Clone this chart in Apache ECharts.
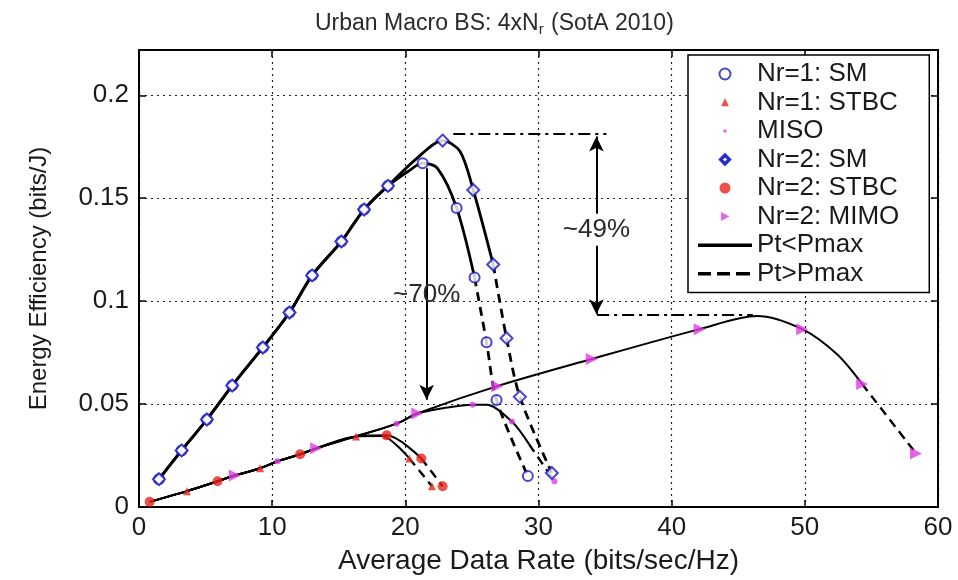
<!DOCTYPE html>
<html><head><meta charset="utf-8">
<script src="https://cdn.jsdelivr.net/npm/echarts/dist/echarts.min.js"></script>
<style>html,body{margin:0;padding:0;background:#fff}#c{width:958px;height:580px}</style>
</head><body><div id="c"></div>
<script>
// ---------- data ----------
// shared rising part of the two SM curves
const smRiseX = [1.5, 3.2, 5.1, 7.0, 9.3, 11.3, 13.0, 15.2, 16.9, 18.7];
const smRiseY = [0.0135, 0.0275, 0.0425, 0.059, 0.0775, 0.0945, 0.1125, 0.129, 0.1445, 0.156];
// Nr=1: SM
const sm1SolidX = [20.2, 21.3, 22.4, 23.85, 25.2];
const sm1SolidY = [0.163, 0.167, 0.1646, 0.1453, 0.1115];
const sm1DashX = [25.2, 26.1, 26.85, 29.2];
const sm1DashY = [0.1115, 0.080, 0.052, 0.015];
const sm1MarkX = [21.3, 23.85, 25.2, 26.1, 26.85, 29.2];
const sm1MarkY = [0.167, 0.1453, 0.1115, 0.080, 0.052, 0.015];
// Nr=2: SM
const sm2SolidX = [20.8, 22.8, 24.1, 25.1, 26.6];
const sm2SolidY = [0.169, 0.178, 0.1728, 0.154, 0.1178];
const sm2DashX = [26.6, 27.6, 28.6, 31.0];
const sm2DashY = [0.1178, 0.082, 0.0535, 0.0165];
const sm2MarkX = [22.8, 25.1, 26.6, 27.6, 28.6, 31.0];
const sm2MarkY = [0.178, 0.154, 0.1178, 0.082, 0.0535, 0.0165];
// shared rising part of the lower curves
const lowX = [0.8, 3.6, 5.9, 7.2, 9.1, 10.4, 12.1, 13.3, 16.3, 19.35, 20.9];
const lowY = [0.0025, 0.0077, 0.0125, 0.0153, 0.0188, 0.0222, 0.0256, 0.0285, 0.0343, 0.0405, 0.0454];
// Nr=2: MIMO
const mimoSolidX = [26.9, 34.0, 42.1, 46.4, 49.8, 52.4, 54.3];
const mimoSolidY = [0.0587, 0.0719, 0.0864, 0.0928, 0.0864, 0.0743, 0.0598];
const mimoDashX = [54.3, 58.35];
const mimoDashY = [0.0598, 0.026];
const mimoMarkX = [7.2, 13.3, 20.9, 26.9, 34.0, 42.1, 49.8, 54.3, 58.35];
const mimoMarkY = [0.0153, 0.0285, 0.0454, 0.0587, 0.0719, 0.0864, 0.0864, 0.0598, 0.026];
// MISO
const misoSolidX = [23.0, 25.05, 26.1, 28.0, 29.3];
const misoSolidY = [0.0482, 0.0497, 0.0497, 0.0415, 0.0304];
const misoDashX = [29.3, 31.2];
const misoDashY = [0.0304, 0.0125];
const misoMarkX = [10.4, 19.35, 25.05, 28.0, 31.2];
const misoMarkY = [0.0222, 0.0405, 0.0497, 0.0415, 0.0125];
// Nr=1: STBC
const stbc1SolidX = [18.2, 20.3];
const stbc1SolidY = [0.0345, 0.0236];
const stbc1DashX = [20.3, 22.0];
const stbc1DashY = [0.0236, 0.0101];
const stbc1MarkX = [3.6, 9.1, 16.3, 20.3, 22.0];
const stbc1MarkY = [0.0077, 0.0188, 0.0343, 0.0236, 0.0101];
// Nr=2: STBC
const stbc2SolidX = [18.6, 21.2];
const stbc2SolidY = [0.0348, 0.0236];
const stbc2DashX = [21.2, 22.8];
const stbc2DashY = [0.0236, 0.0101];
const stbc2MarkX = [0.8, 5.9, 12.1, 18.6, 21.2, 22.8];
const stbc2MarkY = [0.0025, 0.0125, 0.0256, 0.0348, 0.0236, 0.0101];
// annotations
const arrow49X = 34.35, arrow49Y = [0.1800, 0.0936], label49Y = 0.1347;
const refTopX = [23.6, 35.1], refTopY = 0.1815;
const refLowX = [34.4, 46.1], refLowY = 0.0933;
const arrow70X = 21.6, arrow70Y = [0.1645, 0.0521], label70Y = 0.1033;
const xTicks = [0, 60, 10];
const yTicks = [0, 0.222, 0.05];

// ---------- helpers ----------
const zip = (xs, ys) => xs.map((x, i) => [x, ys[i]]);
const FONT = "'Liberation Sans', Arial, sans-serif";
const BLUE = '#1818c8', RED = '#e8241c', MAG = '#e03ce4';
const TRI = 'path://M0,0L10,5L0,10Z';
const smRise = zip(smRiseX, smRiseY);
const low = zip(lowX, lowY);
const lowTo16 = low.slice(0, 9);

function marks(name, xs, ys, symbol, size, color, empty) {
  return { type: 'scatter', name, data: zip(xs, ys), symbol, symbolSize: size, z: 5,
    itemStyle: empty ? { color: color, borderColor: color, borderWidth: 3 } : { color: color }, silent: true };
}
function line(name, data, dashed, width) {
  return { type: 'line', name, data, smooth: 0.3, symbol: 'none', z: 3, silent: true,
    lineStyle: { color: '#000', width: width, type: dashed ? [9, 6] : 'solid' } };
}

const series = [
  marks('Nr=1: SM', smRiseX.concat(sm1MarkX), smRiseY.concat(sm1MarkY), 'emptyCircle', 10, BLUE, true),
  marks('Nr=1: STBC', stbc1MarkX, stbc1MarkY, 'triangle', 8, RED, false),
  marks('MISO', misoMarkX, misoMarkY, 'circle', 6, MAG, false),
  marks('Nr=2: SM', smRiseX.concat(sm2MarkX), smRiseY.concat(sm2MarkY), 'emptyDiamond', 12, BLUE, true),
  marks('Nr=2: STBC', stbc2MarkX, stbc2MarkY, 'circle', 10, RED, false),
  marks('Nr=2: MIMO', mimoMarkX, mimoMarkY, TRI, 12, MAG, false),
  line('Nr=1: SM', smRise.concat(zip(sm1SolidX, sm1SolidY)), false, 2.8),
  line('Nr=1: SM', zip(sm1DashX, sm1DashY), true, 2.8),
  line('Nr=2: SM', smRise.concat(zip(sm2SolidX, sm2SolidY)), false, 2.8),
  line('Nr=2: SM', zip(sm2DashX, sm2DashY), true, 2.8),
  line('Nr=2: MIMO', low.concat(zip(mimoSolidX, mimoSolidY)), false, 2),
  line('Nr=2: MIMO', zip(mimoDashX, mimoDashY), true, 2.4),
  line('MISO', low.concat(zip(misoSolidX, misoSolidY)), false, 2),
  line('MISO', zip(misoDashX, misoDashY), true, 2.4),
  line('Nr=1: STBC', lowTo16.concat(zip(stbc1SolidX, stbc1SolidY)), false, 2),
  line('Nr=1: STBC', zip(stbc1DashX, stbc1DashY), true, 2.4),
  line('Nr=2: STBC', lowTo16.concat(zip(stbc2SolidX, stbc2SolidY)), false, 2),
  line('Nr=2: STBC', zip(stbc2DashX, stbc2DashY), true, 2.4),
  { type: 'line', name: 'Pt<Pmax', data: [], symbol: 'none', itemStyle: { color: '#000' }, lineStyle: { color: '#000', width: 4 } },
  { type: 'line', name: 'Pt>Pmax', data: [], symbol: 'none', itemStyle: { color: '#000' }, lineStyle: { color: '#000', width: 4, type: [10, 6] } },
  { type: 'line', name: 'annot', data: [], symbol: 'none', silent: true,
    markLine: { silent: true, z: 6, label: { show: false }, animation: false,
      data: [
        [{ coord: [arrow49X, arrow49Y[0]], symbol: 'arrow', symbolSize: [11, 15] },
         { coord: [arrow49X, arrow49Y[1]], symbol: 'arrow', symbolSize: [11, 15] }],
        [{ coord: [arrow70X, arrow70Y[0]], symbol: 'none' },
         { coord: [arrow70X, arrow70Y[1]], symbol: 'arrow', symbolSize: [11, 15] }],
        [{ coord: [refTopX[0], refTopY], symbol: 'none', lineStyle: { type: [12, 5, 3, 5] } },
         { coord: [refTopX[1], refTopY], symbol: 'none' }],
        [{ coord: [refLowX[0], refLowY], symbol: 'none', lineStyle: { type: [12, 5, 3, 5] } },
         { coord: [refLowX[1], refLowY], symbol: 'none' }]
      ],
      lineStyle: { color: '#000', width: 2, type: 'solid' } },
    markPoint: { silent: true, z: 7, animation: false,
      symbol: 'rect', symbolSize: 1, itemStyle: { color: 'rgba(0,0,0,0)' },
      label: { show: true, position: 'inside', fontFamily: FONT, fontSize: 26, color: '#2a2a2a' },
      data: [
        { coord: [arrow49X, label49Y], label: { formatter: '~49%', backgroundColor: '#fff', padding: [3, 2] } },
        { coord: [arrow70X, label70Y], label: { formatter: '~70%' } }
      ] } }
];

const axisCommon = {
  axisLine: { show: true, onZero: false, lineStyle: { color: '#000', width: 2 } },
  axisTick: { show: true, inside: true, length: 7, lineStyle: { color: '#000', width: 1.5 } }
};

const option = {
  animation: false,
  backgroundColor: '#fff',
  title: {
    text: '{a|Urban Macro BS: 4xN}{s|r}{a| (SotA 2010)}',
    left: 310, top: 5,
    textStyle: { fontWeight: 'normal', rich: {
      a: { fontFamily: FONT, fontSize: 23, fontWeight: 'normal', color: '#2a2a2a', lineHeight: 27 },
      s: { fontFamily: FONT, fontSize: 15, fontWeight: 'normal', color: '#2a2a2a', lineHeight: 15, verticalAlign: 'bottom', padding: [0, 1, 0, 0] }
    } }
  },
  grid: { left: 139, right: 20, top: 50, bottom: 69 },
  legend: {
    orient: 'vertical', left: 688, top: 55,
    padding: [6, 30, 6, 10], itemGap: 2.5, itemWidth: 54, itemHeight: 11,
    backgroundColor: '#fff', borderColor: '#000', borderWidth: 1.5, z: 10,
    textStyle: { fontFamily: FONT, fontSize: 26, lineHeight: 26, color: '#1a1a1a' },
    selectedMode: false,
    data: [
      { name: 'Nr=1: SM', icon: 'emptyCircle' },
      { name: 'Nr=1: STBC', icon: 'path://M0,0M10,10M5,1L8.5,8.5L1.5,8.5Z' },
      { name: 'MISO', icon: 'path://M0,0M10,10M3.5,3.8h3v2.4h-3z' },
      { name: 'Nr=2: SM', icon: 'path://M5.5,0L11,5.5L5.5,11L0,5.5Z M5.5,2.2L2.2,5.5L5.5,8.8L8.8,5.5Z' },
      { name: 'Nr=2: STBC', icon: 'circle' },
      { name: 'Nr=2: MIMO', icon: 'path://M0,0M10,10M1.5,1L9,5L1.5,9Z' },
      { name: 'Pt<Pmax', icon: 'path://M0,0M54,11M0,4h54v3.5h-54z', itemStyle: { color: '#000' } },
      { name: 'Pt>Pmax', icon: 'path://M0,0M54,11M0,4h13v3.5h-13z M19,4h13v3.5h-13z M38,4h14v3.5h-14z', itemStyle: { color: '#000' } }
    ]
  },
  xAxis: [
    Object.assign({ type: 'value', min: xTicks[0], max: xTicks[1], interval: xTicks[2], position: 'bottom',
      axisLabel: { fontFamily: FONT, fontSize: 26, color: '#1a1a1a', margin: 8 },
      splitLine: { show: true, lineStyle: { type: [2, 4], color: '#222', width: 1.2 } },
      name: 'Average Data Rate (bits/sec/Hz)', nameLocation: 'middle', nameGap: 40,
      nameTextStyle: { fontFamily: FONT, fontSize: 28, color: '#1a1a1a' } }, axisCommon),
    Object.assign({ type: 'value', min: xTicks[0], max: xTicks[1], interval: xTicks[2], position: 'top',
      axisLabel: { show: false }, splitLine: { show: false } }, axisCommon)
  ],
  yAxis: [
    Object.assign({ type: 'value', min: yTicks[0], max: yTicks[1], interval: yTicks[2], position: 'left',
      axisLabel: { fontFamily: FONT, fontSize: 26, color: '#1a1a1a', margin: 10, showMaxLabel: false },
      splitLine: { show: true, lineStyle: { type: [2, 4], color: '#222', width: 1.2 } },
      name: 'Energy Efficiency (bits/J)', nameLocation: 'middle', nameGap: 88,
      nameTextStyle: { fontFamily: FONT, fontSize: 24, color: '#1a1a1a' } }, axisCommon),
    Object.assign({ type: 'value', min: yTicks[0], max: yTicks[1], interval: yTicks[2], position: 'right',
      axisLabel: { show: false }, splitLine: { show: false } }, axisCommon)
  ],
  series: series
};

const chart = echarts.init(document.getElementById('c'), null, { renderer: 'canvas' });
chart.setOption(option);
</script></body></html>
